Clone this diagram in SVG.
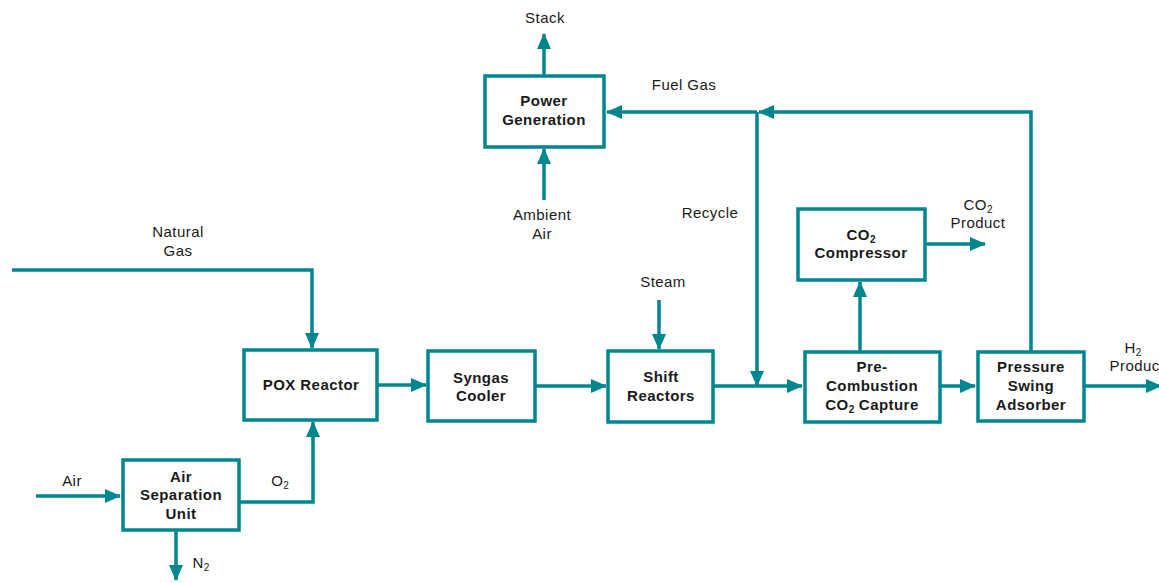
<svg xmlns="http://www.w3.org/2000/svg" width="1159" height="583" viewBox="0 0 1159 583">
<defs>
<style>
.box{fill:#fff;stroke:#00868F;stroke-width:3.5}
.ln{fill:none;stroke:#00868F;stroke-width:3.5;stroke-linejoin:miter}
.arr{marker-end:url(#ah)}
.bt{font-family:"Liberation Sans",Arial,sans-serif;font-size:15px;letter-spacing:0.45px;font-weight:bold;fill:#1a1a1a;text-anchor:middle}
.lt{font-family:"Liberation Sans",Arial,sans-serif;font-size:15px;letter-spacing:0.45px;fill:#1a1a1a;text-anchor:middle}
.sub{font-size:10px;letter-spacing:0}
</style>
<marker id="ah" viewBox="0 0 16 14" refX="15" refY="7" markerWidth="16" markerHeight="14" markerUnits="userSpaceOnUse" orient="auto">
<path d="M0,0 L16,7 L0,14 Z" fill="#00868F"/>
</marker>
</defs>
<rect width="1159" height="583" fill="#fff"/>

<g id="connectors">
<path class="ln arr" d="M544,76 V34"/>
<path class="ln arr" d="M544,200 V149"/>
<path class="ln arr" d="M757,112 H607"/>
<path class="ln arr" d="M1031,351 V112 H759"/>
<path class="ln arr" d="M757,112 V386"/>
<path class="ln arr" d="M713,386 H802"/>
<path class="ln arr" d="M12,270 H312 V348"/>
<path class="ln arr" d="M240,502 H313 V422"/>
<path class="ln arr" d="M36,496 H120"/>
<path class="ln arr" d="M176,531 V580"/>
<path class="ln arr" d="M378,385 H426"/>
<path class="ln arr" d="M535,386 H606"/>
<path class="ln arr" d="M659,300 V349"/>
<path class="ln arr" d="M860,351 V282"/>
<path class="ln arr" d="M926,244 H985"/>
<path class="ln arr" d="M940,386 H975"/>
<path class="ln arr" d="M1084,386 H1161"/>
</g>

<g id="power-generation">
<rect class="box" x="485" y="76" width="119" height="71"/>
<text class="bt" x="544" y="106">Power</text>
<text class="bt" x="544" y="125">Generation</text>
</g>
<g id="pox-reactor">
<rect class="box" x="244" y="350" width="133" height="70"/>
<text class="bt" x="311" y="390">POX Reactor</text>
</g>
<g id="syngas-cooler">
<rect class="box" x="428" y="351" width="107" height="70"/>
<text class="bt" x="481" y="383">Syngas</text>
<text class="bt" x="481" y="401">Cooler</text>
</g>
<g id="shift-reactors">
<rect class="box" x="608" y="351" width="105" height="71"/>
<text class="bt" x="661" y="382">Shift</text>
<text class="bt" x="661" y="401">Reactors</text>
</g>
<g id="pre-combustion-capture">
<rect class="box" x="805" y="352" width="135" height="70"/>
<text class="bt" x="872" y="372">Pre-</text>
<text class="bt" x="872" y="391">Combustion</text>
<text class="bt" x="872" y="410">CO<tspan class="sub" dy="3">2</tspan><tspan dy="-3"> Capture</tspan></text>
</g>
<g id="pressure-swing-adsorber">
<rect class="box" x="978" y="352" width="106" height="69"/>
<text class="bt" x="1031" y="372">Pressure</text>
<text class="bt" x="1031" y="391">Swing</text>
<text class="bt" x="1031" y="410">Adsorber</text>
</g>
<g id="co2-compressor">
<rect class="box" x="798" y="209" width="127" height="71"/>
<text class="bt" x="861" y="240">CO<tspan class="sub" dy="3">2</tspan></text>
<text class="bt" x="861" y="258">Compressor</text>
</g>
<g id="air-separation-unit">
<rect class="box" x="123" y="460" width="116" height="70"/>
<text class="bt" x="181" y="482">Air</text>
<text class="bt" x="181" y="500">Separation</text>
<text class="bt" x="181" y="519">Unit</text>
</g>

<g id="labels">
<text class="lt" x="545" y="23">Stack</text>
<text class="lt" x="684" y="90">Fuel Gas</text>
<text class="lt" x="710" y="218">Recycle</text>
<text class="lt" x="542" y="220">Ambient</text>
<text class="lt" x="542" y="239">Air</text>
<text class="lt" x="178" y="237">Natural</text>
<text class="lt" x="178" y="256">Gas</text>
<text class="lt" x="663" y="287">Steam</text>
<text class="lt" x="978" y="210">CO<tspan class="sub" dy="3">2</tspan></text>
<text class="lt" x="978" y="228">Product</text>
<text class="lt" x="1133" y="353">H<tspan class="sub" dy="3">2</tspan></text>
<text class="lt" x="1137" y="371">Product</text>
<text class="lt" x="72" y="486">Air</text>
<text class="lt" x="280" y="486">O<tspan class="sub" dy="3">2</tspan></text>
<text class="lt" x="201" y="568">N<tspan class="sub" dy="3">2</tspan></text>
</g>
</svg>
